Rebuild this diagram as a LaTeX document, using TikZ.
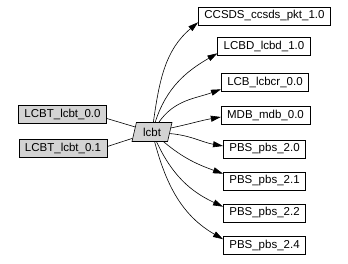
\documentclass[tikz,border=0pt]{standalone}
\usepackage{fontspec}
\setmainfont{Liberation Sans}
\usetikzlibrary{arrows.meta,positioning,shapes.geometric}
\definecolor{Ink}{HTML}{000000}
\definecolor{Paper}{HTML}{FFFFFF}
\definecolor{NodeGray}{HTML}{D3D3D3}
\tikzset{
  module/.style={
    draw=Ink, fill=Paper, line width=0.6pt, inner xsep=6pt, inner ysep=0pt,
    minimum height=18pt, font=\fontsize{11.5}{13}\selectfont
  },
  source/.style={module, fill=NodeGray},
  hub/.style={
    trapezium, trapezium left angle=75, trapezium right angle=105,
    trapezium stretches=true, draw=Ink, fill=NodeGray, line width=0.6pt,
    minimum width=40pt, minimum height=19pt, inner sep=1pt,
    font=\fontsize{11.5}{13}\selectfont
  },
  link/.style={draw=Ink, line width=0.6pt},
  dep/.style={-{Triangle[length=10pt,width=6pt]}, draw=Ink, line width=0.6pt}
}

\begin{document}
\begin{tikzpicture}[x=1pt,y=1pt]
    \useasboundingbox (0,0) rectangle (348,-264);
    % sources
    \node[source] (lcbtA) at (62.5,-114.5) {LCBT\_lcbt\_0.0};
    \node[source] (lcbtB) at (63,-148.5) {LCBT\_lcbt\_0.1};
    \node[hub] (lcbt) at (152,-132) {lcbt};
    % dependencies
    \node[module] (ccsds) at (264.5,-16) {CCSDS\_ccsds\_pkt\_1.0};
    \node[module] (lcbd) at (264,-46) {LCBD\_lcbd\_1.0};
    \node[module] (lcbcr) at (265,-82) {LCB\_lcbcr\_0.0};
    \node[module] (mdb) at (265.5,-115) {MDB\_mdb\_0.0};
    \node[module] (pbsA) at (264.5,-149) {PBS\_pbs\_2.0};
    \node[module] (pbsB) at (264.5,-181) {PBS\_pbs\_2.1};
    \node[module] (pbsC) at (264.5,-213) {PBS\_pbs\_2.2};
    \node[module] (pbsD) at (264.5,-245.5) {PBS\_pbs\_2.4};
    \draw[link] ([yshift=-4pt]lcbtA.east) -- (lcbt);
    \draw[link] ([yshift=2pt]lcbtB.east) -- (lcbt);
    \draw[dep] (lcbt) to[out=82,in=220] ([yshift=3pt]ccsds.south west);
    \draw[dep] (lcbt) to[out=72,in=210] ([yshift=2pt]lcbd.south west);
    \draw[dep] (lcbt) to[out=55,in=200] ([yshift=2pt]lcbcr.south west);
    \draw[dep] (lcbt) to[out=12,in=190] ([yshift=-2pt]mdb.west);
    \draw[dep] (lcbt) to[out=-5,in=170] ([yshift=3pt]pbsA.west);
    \draw[dep] (lcbt) to[out=-40,in=160] ([yshift=-2pt]pbsB.north west);
    \draw[dep] (lcbt) to[out=-65,in=155] ([yshift=-3pt]pbsC.north west);
    \draw[dep] (lcbt) to[out=-75,in=150] ([yshift=-3pt]pbsD.north west);
  \end{tikzpicture}
\end{document}
